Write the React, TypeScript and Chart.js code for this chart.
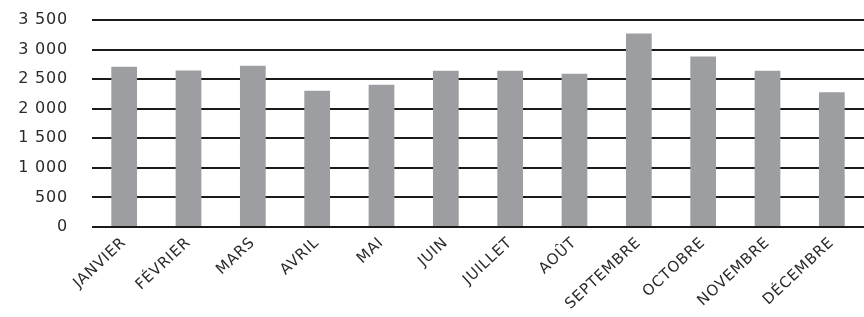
import React, { useEffect, useRef } from "react";
import { Chart, registerables } from "chart.js";

Chart.register(...registerables);

const months = [
  "JANVIER", "FÉVRIER", "MARS", "AVRIL", "MAI", "JUIN",
  "JUILLET", "AOÛT", "SEPTEMBRE", "OCTOBRE", "NOVEMBRE", "DÉCEMBRE",
];
const values = [2710, 2645, 2727, 2305, 2406, 2642, 2642, 2592, 3271, 2884, 2642, 2277];
const yTicks = [0, 500, 1000, 1500, 2000, 2500, 3000, 3500];

const fmt = (v: number) => {
  const s = String(Math.round(v));
  return s.replace(/\B(?=(\d{3})+(?!\d))/g, " ");
};

const SPACING = "0.8px";
const spacingPlugin = {
  id: "spacing",
  beforeInit(chart: any) {
    chart.ctx.letterSpacing = SPACING;
  },
  beforeLayout(chart: any) {
    chart.ctx.letterSpacing = SPACING;
  },
  beforeDraw(chart: any) {
    chart.ctx.letterSpacing = SPACING;
  },
};

export default function App() {
  const ref = useRef<HTMLCanvasElement | null>(null);
  useEffect(() => {
    if (!ref.current) return;
    const font = "'DejaVu Sans', sans-serif";
    const chart = new Chart(ref.current, {
      type: "bar",
      plugins: [spacingPlugin],
      data: {
        labels: months,
        datasets: [
          {
            data: values,
            backgroundColor: "#9d9ea2",
            borderWidth: 0,
            barPercentage: 0.4,
            categoryPercentage: 1,
          },
        ],
      },
      options: {
        animation: false,
        responsive: false,
        maintainAspectRatio: false,
        layout: { padding: { top: 20, right: 0, left: 0, bottom: 0 } },
        plugins: { legend: { display: false }, tooltip: { enabled: false } },
        scales: {
          x: {
            grid: { display: false, drawTicks: false },
            border: { display: false },
            ticks: {
              color: "#2a2a2a",
              font: { family: font, size: 15 },
              minRotation: 43,
              maxRotation: 43,
              padding: 7,
              autoSkip: false,
            },
            afterFit: (s: any) => {
              s.height = 90;
            },
          },
          y: {
            min: 0,
            max: 3500,
            afterBuildTicks: (s: any) => {
              s.ticks = yTicks.map((v) => ({ value: v }));
            },
            grid: {
              color: "#1a1a1a",
              lineWidth: 2,
              drawTicks: true,
              tickLength: 24,
              tickColor: "rgba(0,0,0,0)",
            },
            border: { display: false },
            ticks: {
              color: "#2a2a2a",
              font: { family: font, size: 16 },
              padding: 0,
              callback: (v: any) => fmt(Number(v)),
            },
            afterFit: (s: any) => {
              s.width = 92;
            },
          },
        },
      },
    });
    return () => chart.destroy();
  }, []);
  return (
    <div style={{ position: "absolute", left: 0, top: 0, width: 864, height: 317, background: "#fff" }}>
      <canvas ref={ref} width={864} height={317} style={{ width: 864, height: 317, display: "block" }} />
    </div>
  );
}
